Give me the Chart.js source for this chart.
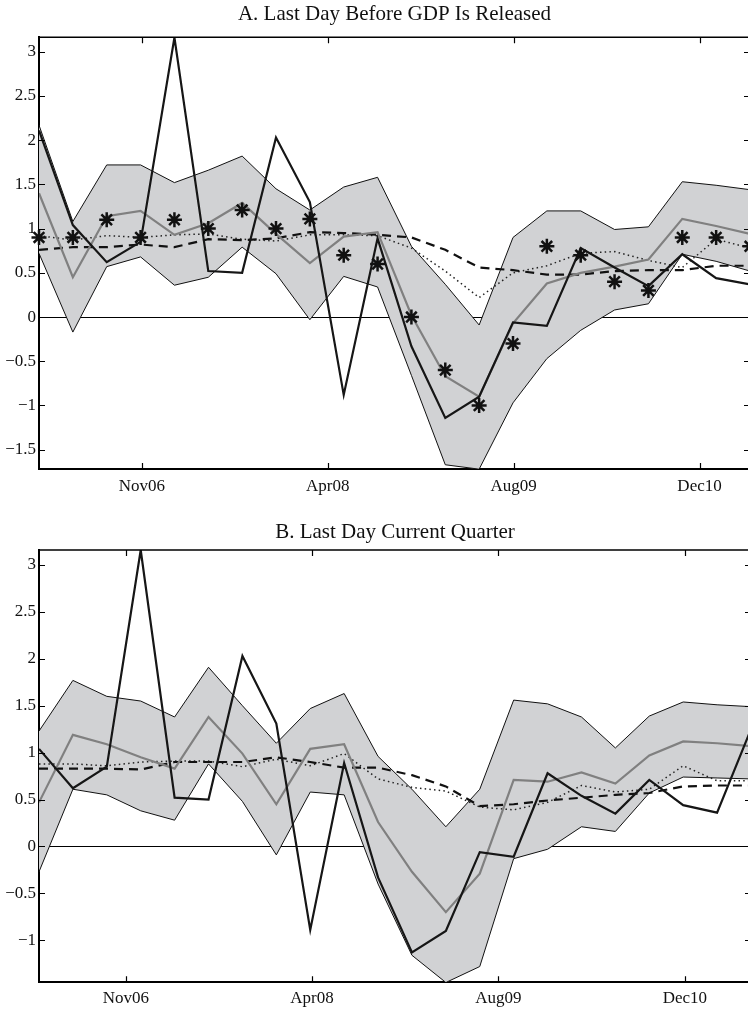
<!DOCTYPE html>
<html><head><meta charset="utf-8">
<script src="https://cdn.jsdelivr.net/npm/chart.js@4.4.0/dist/chart.umd.min.js"></script>
<style>
html,body{margin:0;padding:0;background:#fff;overflow:hidden;width:748px;height:1009px;position:relative;}
#wrapA{position:absolute;left:0;top:0;width:760px;height:498px;}
#wrapB{position:absolute;left:0;top:500px;width:760px;height:509px;}
</style></head><body>
<div id="wrapA"><canvas id="cA" width="760" height="498"></canvas></div>
<div id="wrapB"><canvas id="cB" width="760" height="509"></canvas></div>
<script>
// ---- categories (quarter index) ----
const periods = [0,1,2,3,4,5,6,7,8,9,10,11,12,13,14,15,16,17,18,19,20,21];

// ---- tick labels ----
const xTickLabels = ['Nov06','Apr08','Aug09','Dec10'];
const xTickPosA = [3.04, 8.53, 14.02, 19.51];
const xTickPosB = [2.56, 8.05, 13.55, 19.05];
const yTicksA = [-1.5,-1,-0.5,0,0.5,1,1.5,2,2.5,3];
const yTicksB = [-1,-0.5,0,0.5,1,1.5,2,2.5,3];
const yRangeA = [-1.718, 3.163];
const yRangeB = [-1.448, 3.16];

// ---- Panel A: Last Day Before GDP Is Released ----
const bandUpperA = [2.17,1.08,1.72,1.72,1.52,1.66,1.82,1.45,1.21,1.47,1.58,0.80,0.37,-0.09,0.90,1.20,1.20,0.99,1.02,1.53,1.49,1.44];
const bandLowerA = [0.72,-0.17,0.57,0.68,0.36,0.45,0.79,0.49,-0.03,0.46,0.34,-0.66,-1.67,-1.72,-0.97,-0.47,-0.15,0.08,0.15,0.71,0.63,0.52];
const grayA      = [1.40,0.45,1.14,1.20,0.93,1.06,1.29,0.94,0.61,0.91,0.96,0.02,-0.67,-0.90,-0.07,0.38,0.50,0.57,0.65,1.11,1.03,0.94];
const blackA     = [2.11,1.04,0.62,0.85,3.16,0.52,0.50,2.03,1.30,-0.88,0.89,-0.33,-1.14,-0.90,-0.06,-0.10,0.78,0.56,0.35,0.71,0.44,0.37];
const dashedA    = [0.76,0.79,0.79,0.82,0.79,0.88,0.87,0.89,0.96,0.95,0.93,0.90,0.76,0.56,0.53,0.48,0.48,0.52,0.53,0.53,0.58,0.58];
const dottedA    = [0.92,0.87,0.92,0.90,0.93,0.94,0.88,0.86,0.93,0.93,0.92,0.78,0.52,0.22,0.50,0.58,0.72,0.74,0.64,0.56,0.88,0.78];
const starsA     = [0.90,0.90,1.10,0.90,1.10,1.00,1.21,1.00,1.11,0.70,0.60,0.00,-0.60,-1.00,-0.30,0.80,0.70,0.40,0.30,0.90,0.90,0.80];

// ---- Panel B: Last Day Current Quarter ----
const bandUpperB = [1.23,1.77,1.60,1.55,1.38,1.91,1.50,1.10,1.47,1.63,0.96,0.61,0.21,0.61,1.56,1.52,1.38,1.05,1.39,1.54,1.51,1.49];
const bandLowerB = [-0.27,0.61,0.55,0.38,0.28,0.88,0.48,-0.09,0.58,0.55,-0.40,-1.16,-1.45,-1.28,-0.13,-0.03,0.21,0.16,0.57,0.74,0.73,0.72];
const grayB      = [0.47,1.19,1.09,0.95,0.83,1.38,0.99,0.45,1.04,1.09,0.26,-0.27,-0.70,-0.29,0.71,0.69,0.79,0.67,0.97,1.12,1.10,1.07];
const blackB     = [1.04,0.62,0.85,3.16,0.52,0.50,2.03,1.31,-0.89,0.89,-0.33,-1.13,-0.90,-0.06,-0.11,0.78,0.54,0.35,0.71,0.44,0.36,1.25];
const dashedB    = [0.83,0.83,0.83,0.82,0.90,0.90,0.90,0.95,0.90,0.84,0.84,0.76,0.64,0.43,0.45,0.49,0.52,0.55,0.57,0.64,0.65,0.65];
const dottedB    = [0.88,0.88,0.86,0.90,0.91,0.91,0.85,0.93,0.86,0.99,0.72,0.63,0.59,0.42,0.39,0.47,0.65,0.58,0.61,0.86,0.70,0.70];

const FONT = 'Liberation Serif';
const fmt = v => (v < 0 ? '\u2212' + String(Math.abs(v)) : String(v));
const pts = arr => periods.map((x, i) => ({x: x, y: arr[i]}));

const framePlugin = {
  id: 'frame',
  afterDraw(chart) {
    const {ctx, chartArea: a, scales} = chart;
    const x = scales.x, y = scales.y;
    ctx.save();
    ctx.strokeStyle = '#000';
    ctx.lineWidth = 1.5;
    ctx.beginPath();
    ctx.moveTo(a.left, a.top); ctx.lineTo(a.right, a.top); ctx.lineTo(a.right, a.bottom);
    ctx.stroke();
    ctx.lineWidth = 1.2;
    ctx.beginPath();
    x.ticks.forEach(t => {
      const px = Math.round(x.getPixelForValue(t.value)) + 0.5;
      ctx.moveTo(px, a.bottom); ctx.lineTo(px, a.bottom - 6);
      ctx.moveTo(px, a.top); ctx.lineTo(px, a.top + 6);
    });
    y.ticks.forEach(t => {
      const py = Math.round(y.getPixelForValue(t.value)) + 0.5;
      ctx.moveTo(a.left, py); ctx.lineTo(a.left + 6, py);
      ctx.moveTo(a.right, py); ctx.lineTo(a.right - 6, py);
    });
    ctx.stroke();
    ctx.restore();
  }
};

function makeChart(id, p) {
  const datasets = [
    {data: pts(p.upper), borderColor: '#111', borderWidth: 1, pointRadius: 0, fill: '+1', backgroundColor: '#d1d2d4', order: 6},
    {data: pts(p.lower), borderColor: '#111', borderWidth: 1, pointRadius: 0, fill: false, order: 5},
    {data: pts(p.dotted), borderColor: '#222', borderWidth: 1.5, borderDash: [1.5, 3.2], pointRadius: 0, fill: false, order: 4},
    {data: pts(p.dashed), borderColor: '#111', borderWidth: 2.2, borderDash: [9, 6], pointRadius: 0, fill: false, order: 3},
    {data: pts(p.gray), borderColor: '#808080', borderWidth: 2.2, pointRadius: 0, fill: false, order: 2},
    {data: pts(p.black), borderColor: '#161616', borderWidth: 2.2, pointRadius: 0, fill: false, order: 1}
  ];
  if (p.stars) {
    datasets.push({data: pts(p.stars), showLine: false, pointStyle: 'star', pointRadius: 7.5,
      pointBorderWidth: 2.5, pointBorderColor: '#111', pointBackgroundColor: '#111', clip: false, order: 0});
  }
  return new Chart(document.getElementById(id), {
    type: 'line',
    data: {datasets},
    plugins: [framePlugin],
    options: {
      responsive: false, animation: false, events: [], devicePixelRatio: 1,
      elements: {line: {tension: 0, borderJoinStyle: 'miter'}},
      layout: {padding: {left: 0, right: 9, top: 0, bottom: 0}},
      plugins: {
        legend: {display: false}, tooltip: {enabled: false},
        title: {display: true, text: p.title, fullSize: false, color: '#111',
          font: {family: FONT, size: 21, weight: 'normal'}, padding: p.titlePad}
      },
      scales: {
        x: {type: 'linear', min: 0, max: 21,
          afterBuildTicks: s => { s.ticks = p.xTicks.map(v => ({value: v})); },
          afterFit: s => { s.height = p.xHeight; },
          ticks: {callback: (v, i) => xTickLabels[i], font: {family: FONT, size: 17}, color: '#111',
            padding: p.xPad, maxRotation: 0, autoSkip: false},
          grid: {display: false, drawTicks: false},
          border: {display: true, color: '#000', width: 2}},
        y: {type: 'linear', min: p.range[0], max: p.range[1],
          afterBuildTicks: s => { s.ticks = p.yTicks.map(v => ({value: v})); },
          afterFit: s => { s.width = 39; },
          ticks: {callback: v => fmt(v), font: {family: FONT, size: 17}, color: '#111', padding: 3, autoSkip: false},
          grid: {drawTicks: false, lineWidth: 1,
            color: c => (c.tick && c.tick.value === 0 ? '#000' : 'rgba(0,0,0,0)')},
          border: {display: true, color: '#000', width: 2}}
      }
    }
  });
}

makeChart('cA', {title: 'A. Last Day Before GDP Is Released', titlePad: {top: 2.2, bottom: 9.9},
  upper: bandUpperA, lower: bandLowerA, gray: grayA, black: blackA, dashed: dashedA, dotted: dottedA, stars: starsA,
  xTicks: xTickPosA, yTicks: yTicksA, range: yRangeA, xHeight: 29, xPad: 7.3});
makeChart('cB', {title: 'B. Last Day Current Quarter', titlePad: {top: 19.9, bottom: 4.9},
  upper: bandUpperB, lower: bandLowerB, gray: grayB, black: blackB, dashed: dashedB, dotted: dottedB, stars: null,
  xTicks: xTickPosB, yTicks: yTicksB, range: yRangeB, xHeight: 26.7, xPad: 5.6});
</script>
</body></html>
